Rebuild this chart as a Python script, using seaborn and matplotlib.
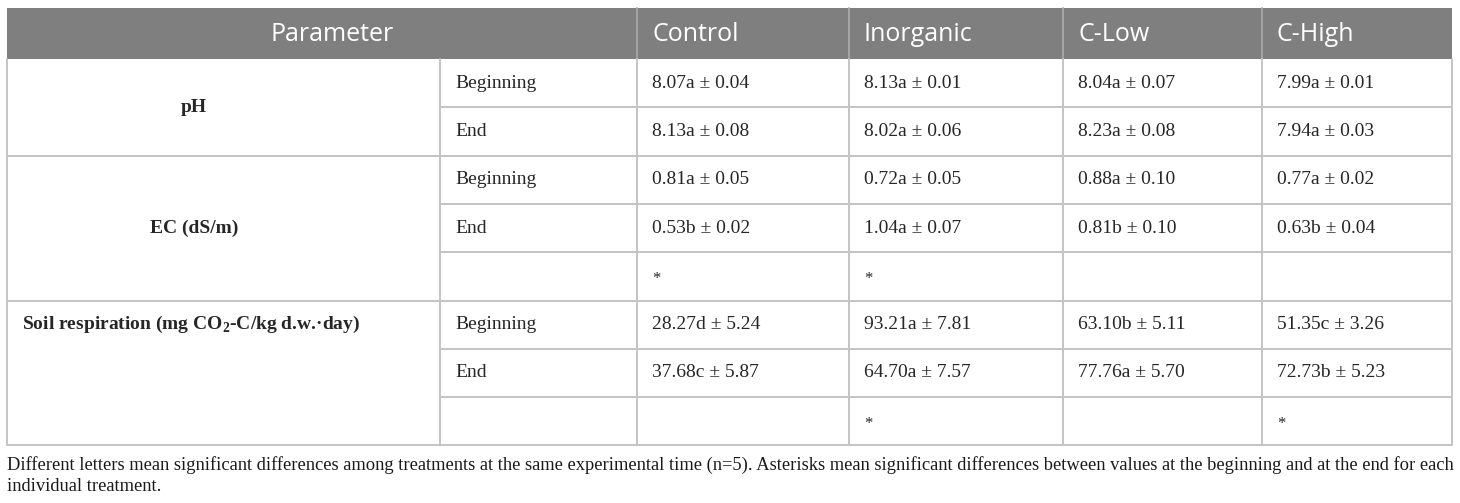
import numpy as np
import matplotlib
matplotlib.use("Agg")
import matplotlib.pyplot as plt
import seaborn as sns

# ---- table data ----
treatments = ["Control", "Inorganic", "C-Low", "C-High"]
parameters = ["pH", "EC (dS/m)", r"Soil respiration (mg CO$_\mathbf{2}$-C/kg d.w.·day)"]
times = ["Beginning", "End"]

ph_beg_mean = [8.07, 8.13, 8.04, 7.99]
ph_beg_sd = [0.04, 0.01, 0.07, 0.01]
ph_beg_let = ["a", "a", "a", "a"]
ph_end_mean = [8.13, 8.02, 8.23, 7.94]
ph_end_sd = [0.08, 0.06, 0.08, 0.03]
ph_end_let = ["a", "a", "a", "a"]
ph_sig = None

ec_beg_mean = [0.81, 0.72, 0.88, 0.77]
ec_beg_sd = [0.05, 0.05, 0.10, 0.02]
ec_beg_let = ["a", "a", "a", "a"]
ec_end_mean = [0.53, 1.04, 0.81, 0.63]
ec_end_sd = [0.02, 0.07, 0.10, 0.04]
ec_end_let = ["b", "a", "b", "b"]
ec_sig = ["*", "*", "", ""]

sr_beg_mean = [28.27, 93.21, 63.10, 51.35]
sr_beg_sd = [5.24, 7.81, 5.11, 3.26]
sr_beg_let = ["d", "a", "b", "c"]
sr_end_mean = [37.68, 64.70, 77.76, 72.73]
sr_end_sd = [5.87, 7.57, 5.70, 5.23]
sr_end_let = ["c", "a", "a", "b"]
sr_sig = ["", "*", "", "*"]

footnote = ("Different letters mean significant differences among treatments at the same experimental time (n=5). "
            "Asterisks mean significant differences between values at the beginning and at the end for each\n"
            "individual treatment.")

groups = [
    (parameters[0], [(ph_beg_mean, ph_beg_sd, ph_beg_let), (ph_end_mean, ph_end_sd, ph_end_let)], ph_sig, "center"),
    (parameters[1], [(ec_beg_mean, ec_beg_sd, ec_beg_let), (ec_end_mean, ec_end_sd, ec_end_let)], ec_sig, "center"),
    (parameters[2], [(sr_beg_mean, sr_beg_sd, sr_beg_let), (sr_end_mean, sr_end_sd, sr_end_let)], sr_sig, "top"),
]

# ---- style ----
sns.set_theme(style="white")
plt.rcParams["font.family"] = ["Liberation Serif", "DejaVu Serif"]
plt.rcParams["mathtext.fontset"] = "custom"
plt.rcParams["mathtext.rm"] = "Liberation Serif"
plt.rcParams["mathtext.bf"] = "Liberation Serif:bold"

W, H = 1460, 503
fig = plt.figure(figsize=(W / 100, H / 100), dpi=100)
ax = fig.add_axes([0, 0, 1, 1])
ax.set_xlim(0, W)
ax.set_ylim(H, 0)
ax.axis("off")

col_x = [7, 440, 637, 849, 1063, 1262, 1452]
head_top, head_bot = 8, 59
row_h = 48.3
pad = 15
line_c = "#c4c4c4"
lw = 1.4
body_fs = 14

# header
ax.add_patch(plt.Rectangle((col_x[0], head_top), col_x[-1] - col_x[0], head_bot - head_top,
                           facecolor="#7f7f7f", edgecolor="none"))
for x in col_x[2:-1]:
    ax.plot([x, x], [head_top, head_bot], color="#a6a6a6", lw=lw)
hfont = dict(family="Open Sans", fontsize=18, color="white", va="center")
ax.text(332, (head_top + head_bot) / 2 + 1, "Parameter", ha="center", **hfont)
for i, t in enumerate(treatments):
    ax.text(col_x[2 + i] + pad, (head_top + head_bot) / 2 + 1, t, ha="left", **hfont)

# body
y = head_bot
for label, rows, sig, valign in groups:
    n_rows = len(rows) + (1 if sig is not None else 0)
    y0 = y
    y_end = y0 + n_rows * row_h
    if valign == "center":
        ax.text(194, (y0 + y_end) / 2, label, ha="center", va="center",
                fontsize=body_fs, fontweight="bold")
    else:
        ax.text(22, y0 + row_h / 2, label, ha="left", va="center",
                fontsize=body_fs, fontweight="bold")
    for r, (mean, sd, let) in enumerate(rows):
        yc = y0 + (r + 0.5) * row_h
        ax.text(col_x[1] + pad, yc, times[r], ha="left", va="center", fontsize=body_fs)
        for i in range(len(treatments)):
            ax.text(col_x[2 + i] + pad, yc, f"{mean[i]:.2f}{let[i]} ± {sd[i]:.2f}",
                    ha="left", va="center", fontsize=body_fs)
    if sig is not None:
        yc = y0 + (len(rows) + 0.5) * row_h
        for i, s in enumerate(sig):
            if s:
                ax.text(col_x[2 + i] + pad, yc + 3, s, ha="left", va="center", fontsize=12)
    # inner horizontal lines
    for k in range(1, n_rows):
        yy = y0 + k * row_h
        ax.plot([col_x[1], col_x[-1]], [yy, yy], color=line_c, lw=lw)
    ax.plot([col_x[0], col_x[-1]], [y_end, y_end], color=line_c, lw=lw)
    y = y_end

for x in col_x:
    ax.plot([x, x], [head_bot, y], color=line_c, lw=lw)

ax.text(col_x[0], y + 11, footnote, ha="left", va="top", fontsize=13.3,
        linespacing=1.3, color="#1a1a1a")

fig.savefig("out.png", dpi=100)
